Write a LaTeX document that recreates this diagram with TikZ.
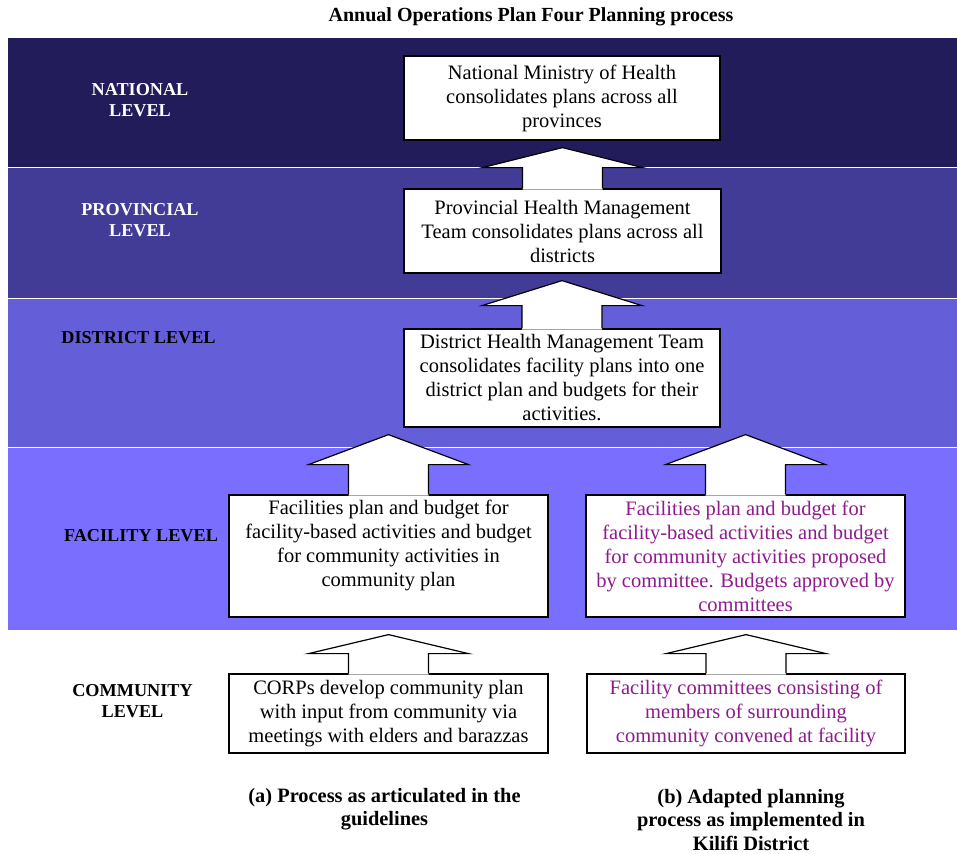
\documentclass[tikz,border=0pt]{standalone}
\usepackage{fontspec}
\setmainfont{Liberation Serif}
\usetikzlibrary{calc}
\definecolor{natband}{HTML}{231C5B}
\definecolor{provband}{HTML}{433C96}
\definecolor{distband}{HTML}{645ED8}
\definecolor{facband}{HTML}{796EFF}
\definecolor{plum}{HTML}{8E1A8E}
\tikzset{
  planbox/.style={draw=black,fill=white,line width=0.6pt,inner sep=0pt,align=center,font=\fontsize{10.25}{12}\selectfont},
  adapted/.style={planbox,text=plum},
  lvl/.style={font=\fontsize{9.1}{10.5}\selectfont\bfseries,align=center},
  capt/.style={font=\fontsize{10.2}{11.75}\selectfont\bfseries,align=center},
  blockarrow/.style={draw=black,line width=0.6pt,line join=miter},
}
% block arrow: from #1 (north) up to #3 below #2 (south), head #4 tall
\newcommand{\upblock}[4]{%
  \fill[white] let \p1=(#1.north), \p2=(#2.south) in
    (\x1-20pt,\y1-0.6pt) -- (\x1-20pt,\y2-#3-#4) -- (\x1-40pt,\y2-#3-#4) -- (\x1,\y2-#3)
    -- (\x1+40pt,\y2-#3-#4) -- (\x1+20pt,\y2-#3-#4) -- (\x1+20pt,\y1-0.6pt) -- cycle;
  \draw[blockarrow] let \p1=(#1.north), \p2=(#2.south) in
    (\x1-20pt,\y1) -- (\x1-20pt,\y2-#3-#4) -- (\x1-40pt,\y2-#3-#4) -- (\x1,\y2-#3)
    -- (\x1+40pt,\y2-#3-#4) -- (\x1+20pt,\y2-#3-#4) -- (\x1+20pt,\y1);}

\begin{document}
\begin{tikzpicture}[x=0.5pt,y=-0.5pt]
  \useasboundingbox (0,0) rectangle (957,853);
  % level bands
  \fill[natband] (8,38) rectangle (957,166.5);
  \fill[provband] (8,168) rectangle (957,297.5);
  \fill[distband] (8,299) rectangle (957,446.5);
  \fill[facband] (8,448) rectangle (957,630);

  \node[font=\fontsize{10}{12}\selectfont\bfseries] (title) at (531,17) {Annual Operations Plan Four Planning process};

  \node[lvl,text=white] (lnat) at (140,100) {NATIONAL\\LEVEL};
  \node[lvl,text=white] (lprov) at (140,220) {PROVINCIAL\\LEVEL};
  \node[lvl] (ldist) at (138.5,338) {DISTRICT LEVEL};
  \node[lvl] (lfac) at (141,536) {FACILITY LEVEL};
  \node[lvl] (lcom) at (132.5,701) {COMMUNITY\\LEVEL};

  \node[planbox,minimum width=158pt,minimum height=42pt] (nat) at (562,98)
    {National Ministry of Health\\consolidates plans across all\\provinces};
  \node[planbox,minimum width=158.5pt,minimum height=42pt] (prov) at (562.5,231)
    {Provincial Health Management\\Team consolidates plans across all\\districts};
  \node[planbox,minimum width=158pt,minimum height=49pt] (dist) at (562,378)
    {District Health Management Team\\consolidates facility plans into one\\district plan and budgets for their\\activities.};
  \node[planbox,minimum width=159.5pt,minimum height=61pt,text depth=13pt] (facA) at (388.5,556)
    {Facilities plan and budget for\\facility-based activities and budget\\for community activities in\\community plan};
  \node[adapted,minimum width=159.5pt,minimum height=61pt] (facB) at (745.5,556)
    {Facilities plan and budget for\\facility-based activities and budget\\for community activities proposed\\by committee. Budgets approved by\\committees};
  \node[planbox,minimum width=159.5pt,minimum height=39.5pt] (comA) at (388.5,713.5)
    {CORPs develop community plan\\with input from community via\\meetings with elders and barazzas};
  \node[adapted,minimum width=159pt,minimum height=39.5pt] (comB) at (746,713.5)
    {Facility committees consisting of\\members of surrounding\\community convened at facility};

  \upblock{prov}{nat}{3.5pt}{10pt}
  \upblock{dist}{prov}{3.5pt}{12.5pt}
  \upblock{facA}{dist}{3.5pt}{15pt}
  \upblock{facB}{dist}{3.5pt}{15pt}
  \upblock{comA}{facA}{8.5pt}{9.5pt}
  \upblock{comB}{facB}{8.5pt}{9.5pt}

  \node[capt] (capA) at (384.5,809) {(a) Process as articulated in the\\guidelines};
  \node[capt] (capB) at (751,820) {(b) Adapted planning\\process as implemented in\\Kilifi District};
\end{tikzpicture}
\end{document}
